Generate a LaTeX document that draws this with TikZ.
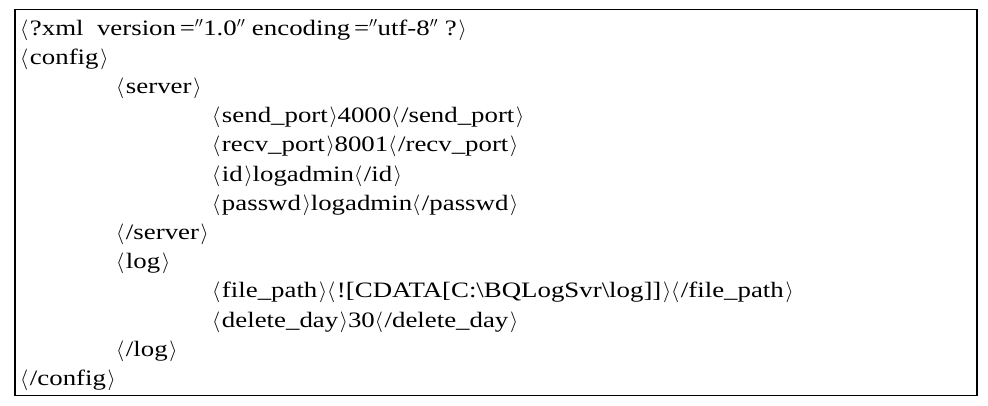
\documentclass[tikz,border=0pt]{standalone}
\usepackage{fontspec}
\setmainfont[FakeStretch=1.22]{Liberation Serif}
\usetikzlibrary{positioning}
\newcommand{\tg}[1]{$\langle\mkern1.5mu$#1$\mkern1.5mu\rangle$}
\newcommand{\dq}{$''$}
\newcommand{\eq}{\,=}
\tikzset {
  % one line of the listing
  code line/.style = {
    anchor = base west,
    inner sep = 0,
    font = \fontsize{22}{22}\selectfont
  },
  % box round the listing
  frame box/.style = {
    draw = black,
    line width = 1.2pt
  }
}

\begin{document}
\begin{tikzpicture}[x = 1pt, y = -1pt]
    \useasboundingbox (0,0) rectangle (988,405);
    \draw[frame box] (15,9.5) rectangle (977,395.5);

    \node[code line] (xml) at (20,35) {\tg{?xml\ \ version\eq\dq1.0\dq{} encoding\eq\dq utf-8\dq{} ?}};
    \node[code line] (config) at (20,64.2) {\tg{config}};
    \node[code line] (server) at (116,93.4) {\tg{server}};
    \node[code line] (send) at (212,122.6) {\tg{send\_port}4000\tg{/send\_port}};
    \node[code line] (recv) at (212,151.8) {\tg{recv\_port}8001\tg{/recv\_port}};
    \node[code line] (id) at (212,181) {\tg{id}logadmin\tg{/id}};
    \node[code line] (passwd) at (212,210.2) {\tg{passwd}logadmin\tg{/passwd}};
    \node[code line] (server-end) at (116,239.4) {\tg{/server}};
    \node[code line] (log) at (116,268.6) {\tg{log}};
    \node[code line] (path) at (212,297.8) {\tg{file\_path}\tg{![CDATA[C:\textbackslash BQLogSvr\textbackslash log]]}\tg{/file\_path}};
    \node[code line] (day) at (212,327) {\tg{delete\_day}30\tg{/delete\_day}};
    \node[code line] (log-end) at (116,356.2) {\tg{/log}};
    \node[code line] (config-end) at (20,385.4) {\tg{/config}};
\end{tikzpicture}
\end{document}
